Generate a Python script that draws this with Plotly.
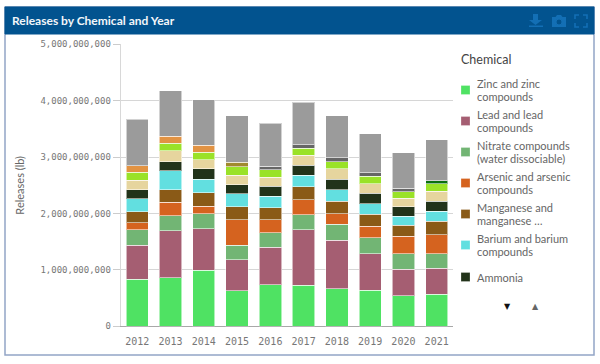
import plotly.graph_objects as go

years = ["2012", "2013", "2014", "2015", "2016", "2017", "2018", "2019", "2020", "2021"]
# Values in billions of pounds
zinc = [0.83, 0.86, 0.99, 0.63, 0.74, 0.73, 0.665, 0.64, 0.54, 0.565]
lead = [0.61, 0.83, 0.74, 0.55, 0.66, 0.98, 0.865, 0.645, 0.47, 0.46]
nitrate = [0.27, 0.27, 0.27, 0.26, 0.255, 0.27, 0.28, 0.285, 0.275, 0.264]
arsenic = [0.13, 0.24, 0.13, 0.45, 0.23, 0.26, 0.185, 0.205, 0.315, 0.33]
manganese = [0.19, 0.22, 0.24, 0.23, 0.215, 0.23, 0.225, 0.215, 0.195, 0.245]
barium = [0.23, 0.34, 0.24, 0.23, 0.21, 0.21, 0.205, 0.18, 0.155, 0.175]
ammonia = [0.16, 0.16, 0.18, 0.16, 0.17, 0.18, 0.185, 0.185, 0.17, 0.18]
tan_chem = [0.17, 0.19, 0.16, 0.17, 0.165, 0.175, 0.18, 0.175, 0.15, 0.18]
lime_chem = [0.14, 0.14, 0.14, 0.15, 0.135, 0.125, 0.13, 0.13, 0.12, 0.13]
orange_chem = [0.12, 0.12, 0.12, None, None, None, None, None, None, None]
olive_chem = [None, None, None, 0.08, None, None, None, None, None, None]
slate_chem = [None, None, None, None, 0.06, 0.06, 0.07, 0.06, 0.06, None]
green_chem = [None, None, None, None, None, None, None, None, None, 0.055]
gray_chem = [0.82, 0.81, 0.81, 0.82, 0.76, 0.75, 0.74, 0.69, 0.63, 0.725]

y_ticks = [0, 1, 2, 3, 4, 5]

series = [
    ("Zinc and zinc<br>compounds", zinc, "#4FE263"),
    ("Lead and lead<br>compounds", lead, "#A55E72"),
    ("Nitrate compounds<br>(water dissociable)", nitrate, "#72B574"),
    ("Arsenic and arsenic<br>compounds", arsenic, "#D5631F"),
    ("Manganese and<br>manganese …", manganese, "#8A5A17"),
    ("Barium and barium<br>compounds", barium, "#62DFE0"),
    ("Ammonia", ammonia, "#22331A"),
    ("Chemical 8", tan_chem, "#E6D59E"),
    ("Chemical 9", lime_chem, "#9AE228"),
    ("Chemical 10", orange_chem, "#E29343"),
    ("Chemical 11", olive_chem, "#A08A2E"),
    ("Chemical 12", slate_chem, "#666666"),
    ("Chemical 13", green_chem, "#0A7010"),
    ("Other", gray_chem, "#9B9B9B"),
]
visible_legend_rows = 7

W, H = 600, 364
FONT = "Lato"
MONO = "DejaVu Sans Mono"

fig = go.Figure()
for name, vals, color in series:
    fig.add_trace(go.Bar(
        x=years,
        y=[None if v is None else v * 1e9 for v in vals],
        name=name.replace("<br>", " "),
        showlegend=False,
        marker=dict(color=color, line=dict(color="rgba(255,255,255,0.55)", width=1)),
    ))


def px(x):
    return x / W


def py(y):
    return 1 - y / H


def pth(points):
    return "M" + " L".join(f"{px(a):.5f},{py(b):.5f}" for a, b in points) + " Z"


shapes = [
    dict(type="rect", xref="paper", yref="paper", x0=px(5), x1=px(594), y0=py(355), y1=py(7),
         fillcolor="white", line=dict(color="#93A5C6", width=1.5), layer="below"),
    dict(type="rect", xref="paper", yref="paper", x0=px(5), x1=px(594), y0=py(34), y1=py(7),
         fillcolor="#02538F", line=dict(color="#02538F", width=1), layer="below"),
]
ICON = "#136FB5"
shapes += [
    dict(type="path", xref="paper", yref="paper", path=pth([(533, 14), (538, 14), (538, 20), (542, 20), (535.5, 25), (529, 20), (533, 20)]),
         fillcolor=ICON, line=dict(width=0), layer="above"),
    dict(type="rect", xref="paper", yref="paper", x0=px(529), x1=px(543), y0=py(27), y1=py(25.5),
         fillcolor=ICON, line=dict(width=0), layer="above"),
    dict(type="path", xref="paper", yref="paper", path=pth([(552, 17), (555.5, 17), (557, 15), (561, 15), (562.5, 17), (566, 17), (566, 27), (552, 27)]),
         fillcolor=ICON, line=dict(width=0), layer="above"),
    dict(type="circle", xref="paper", yref="paper", x0=px(556), x1=px(562), y0=py(25), y1=py(19),
         fillcolor="#02538F", line=dict(color=ICON, width=1), layer="above"),
]
for cx, cy, dx, dy in [(575, 15, 1, 1), (587, 15, -1, 1), (575, 27, 1, -1), (587, 27, -1, -1)]:
    shapes.append(dict(type="path", xref="paper", yref="paper",
                       path=f"M{px(cx + 4 * dx):.5f},{py(cy):.5f} L{px(cx):.5f},{py(cy):.5f} L{px(cx):.5f},{py(cy + 4 * dy):.5f}",
                       line=dict(color=ICON, width=1.6), layer="above"))

annotations = [
    dict(text="<b>Releases by Chemical and Year</b>", xref="paper", yref="paper", x=px(9.5), y=py(20),
         xanchor="left", yanchor="middle", showarrow=False, font=dict(family=FONT, size=12, color="#F2F6FA")),
    dict(text="Chemical", xref="paper", yref="paper", x=px(459), y=py(59.5), xanchor="left", yanchor="middle",
         showarrow=False, font=dict(family=FONT, size=12.5, color="#444444")),
    dict(text="▼", xref="paper", yref="paper", x=px(507), y=py(306), xanchor="center", yanchor="middle",
         showarrow=False, font=dict(family="DejaVu Sans", size=8, color="#111111")),
    dict(text="▲", xref="paper", yref="paper", x=px(535), y=py(306), xanchor="center", yanchor="middle",
         showarrow=False, font=dict(family="DejaVu Sans", size=8, color="#666666")),
]

# Legend rows: the reference shows the first seven chemicals with a scroller
row_top, row_step, line_step = 90, 31, 13.5
for i, (name, _, color) in enumerate(series[:visible_legend_rows]):
    cy = row_top + i * row_step + (1 if i == visible_legend_rows - 1 else 0)
    shapes.append(dict(type="rect", xref="paper", yref="paper", x0=px(461), x1=px(470), y0=py(cy + 4.5), y1=py(cy - 4.5),
                       fillcolor=color, line=dict(color="rgba(255,255,255,0.5)", width=0.5), layer="above"))
    lines = name.split("<br>")
    for j, line in enumerate(lines):
        ly = cy + (j - (len(lines) - 1) / 2) * line_step
        annotations.append(dict(text=line, xref="paper", yref="paper", x=px(475), y=py(ly), xanchor="left", yanchor="middle",
                                align="left", showarrow=False, font=dict(family=FONT, size=11, color="#666666")))

fig.update_layout(
    width=W, height=H, autosize=False,
    margin=dict(l=0, r=0, t=0, b=0, autoexpand=False),
    paper_bgcolor="white", plot_bgcolor="rgba(0,0,0,0)",
    barmode="stack", bargap=0.33,
    font=dict(family=FONT, color="#666666", size=12),
    shapes=shapes, annotations=annotations,
    showlegend=False,
    xaxis=dict(
        domain=[px(120.7), px(453.3)], type="category",
        showline=True, linecolor="#A8A8A8", linewidth=1, showgrid=False,
        ticks="", tickfont=dict(family=MONO, size=10, color="#777777"),
        ticklabelstandoff=6, layer="below traces",
    ),
    yaxis=dict(
        domain=[py(326.3), py(44.3)], range=[0, 5e9],
        tickvals=[t * 1e9 for t in y_ticks], tickformat=",d",
        showline=True, linecolor="#D8D8D8", linewidth=1,
        gridcolor="#D6D6D6", gridwidth=1, zeroline=False,
        ticks="outside", ticklen=7, tickcolor="#CCCCCC", tickwidth=1,
        tickfont=dict(family=MONO, size=9, color="#777777"),
        title=dict(text="Releases (lb)", font=dict(family=FONT, size=11, color="#666666"), standoff=13),
        layer="below traces",
    ),
)

fig.write_html("out.html", config=dict(displayModeBar=False),
               post_script="document.body.style.margin='0';document.body.style.overflow='hidden';")
